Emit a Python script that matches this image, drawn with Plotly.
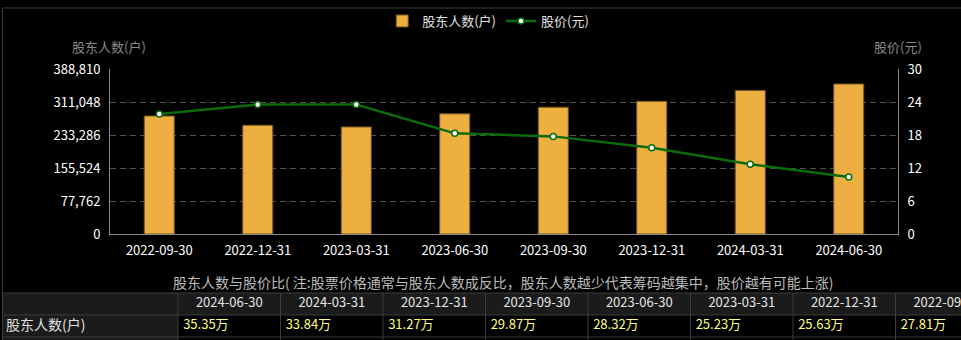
import plotly.graph_objects as go

# ---------------- data ----------------
dates = ["2022-09-30", "2022-12-31", "2023-03-31", "2023-06-30",
         "2023-09-30", "2023-12-31", "2024-03-31", "2024-06-30"]
holders = [278100, 256300, 252300, 283200, 298700, 312700, 338400, 353500]
price = [21.8, 23.55, 23.55, 18.3, 17.75, 15.7, 12.7, 10.35]
left_ticks = [0, 77762, 155524, 233286, 311048, 388810]
right_ticks = [0, 6, 12, 18, 24, 30]
bar_name = "股东人数(户)"
line_name = "股价(元)"
left_title = "股东人数(户)"
right_title = "股价(元)"
caption = "股东人数与股价比( 注:股票价格通常与股东人数成反比，股东人数越少代表筹码越集中，股价越有可能上涨)"
row_label = "股东人数(户)"

# table (newest first)
table_dates = dates[::-1]
table_vals = [f"{h / 10000:.2f}万" for h in holders[::-1]]

# ---------------- layout helpers ----------------
W, H = 961, 340
FONT = "Noto Sans CJK SC"


def px(x):
    return x / W


def py(y):
    return 1 - y / H


COLW = 102.5          # table column width in px
COL0 = 178            # first data column left edge (px)
ROWH = 22             # row height (px)
ROW0 = 293            # header row top (px)


def tu(x):  # px -> table x units
    return (x - COL0) / COLW


def tv(y):  # px -> table y units
    return (y - ROW0) / ROWH


fig = go.Figure()

fig.add_trace(go.Bar(
    x=dates, y=holders, name=bar_name, width=0.305,
    marker=dict(color="#EDB040", line=dict(color="#6e5220", width=1)),
    xaxis="x", yaxis="y", hoverinfo="skip"))

fig.add_trace(go.Scatter(
    x=dates, y=price, name=line_name, mode="lines+markers",
    line=dict(color="#0b6b0b", width=2.5),
    marker=dict(color="white", size=6, line=dict(color="#0b6b0b", width=1.5)),
    xaxis="x", yaxis="y2", hoverinfo="skip"))

# table texts via a text trace on a dedicated axis pair
n = len(table_dates)
fig.add_trace(go.Scatter(
    x=[i + 0.5 for i in range(n)], y=[0.5] * n, text=table_dates,
    mode="text", textposition="middle center",
    textfont=dict(family=FONT, size=13, color="#e6e6e6"),
    xaxis="x3", yaxis="y3", showlegend=False, hoverinfo="skip"))
fig.add_trace(go.Scatter(
    x=[i + 0.05 for i in range(n)], y=[1.5] * n, text=table_vals,
    mode="text", textposition="middle right",
    textfont=dict(family=FONT, size=13, color="#ffff7a"),
    xaxis="x3", yaxis="y3", showlegend=False, hoverinfo="skip"))
fig.add_trace(go.Scatter(
    x=[tu(6)], y=[1.5], text=[row_label],
    mode="text", textposition="middle right",
    textfont=dict(family=FONT, size=14, color="#e0e0e0"),
    xaxis="x3", yaxis="y3", showlegend=False, hoverinfo="skip"))

shapes = []
LEFT = tu(2.5)
RIGHT = tu(W + 5)
BOTTOM = tv(H + 5)
GRID = "#3c3c3c"
# header row fill + label cell fill
shapes.append(dict(type="rect", xref="x3", yref="y3", x0=LEFT, x1=RIGHT, y0=0, y1=1,
                   fillcolor="#1b1b1b", line=dict(width=0), layer="below"))
shapes.append(dict(type="rect", xref="x3", yref="y3", x0=LEFT, x1=0, y0=1, y1=BOTTOM,
                   fillcolor="#1b1b1b", line=dict(width=0), layer="below"))
for r in [0, 1, 2]:
    shapes.append(dict(type="line", xref="x3", yref="y3", x0=LEFT, x1=RIGHT, y0=r, y1=r,
                       line=dict(color=GRID, width=1)))
for c in range(n + 1):
    shapes.append(dict(type="line", xref="x3", yref="y3", x0=c, x1=c, y0=0, y1=BOTTOM,
                       line=dict(color=GRID, width=1)))
# outer frame
shapes.append(dict(type="line", xref="x3", yref="y3", x0=LEFT, x1=RIGHT,
                   y0=tv(8), y1=tv(8), line=dict(color=GRID, width=1)))
shapes.append(dict(type="line", xref="x3", yref="y3", x0=LEFT, x1=LEFT,
                   y0=tv(8), y1=BOTTOM, line=dict(color=GRID, width=1)))

annotations = [
    dict(text=left_title, x=px(109), y=py(47), xref="paper", yref="paper",
         xanchor="center", yanchor="middle",
         showarrow=False, font=dict(family=FONT, size=13, color="#8a8a8a")),
    dict(text=right_title, x=px(898), y=py(47), xref="paper", yref="paper",
         xanchor="center", yanchor="middle",
         showarrow=False, font=dict(family=FONT, size=13, color="#8a8a8a")),
    dict(text=caption, x=tu(503), y=tv(282), xref="x3", yref="y3",
         xanchor="center", yanchor="middle",
         showarrow=False, font=dict(family=FONT, size=14, color="#bdbdbd")),
]

AX = "#8a8a8a"
fig.update_layout(
    width=W, height=H,
    margin=dict(l=0, r=0, t=0, b=0, autoexpand=False),
    paper_bgcolor="#000000", plot_bgcolor="rgba(0,0,0,0)",
    font=dict(family=FONT, color="#ffffff", size=13),
    showlegend=True,
    legend=dict(orientation="h", x=0.508, xanchor="center", y=py(21), yanchor="middle",
                bgcolor="rgba(0,0,0,0)", font=dict(family=FONT, size=13, color="#e0e0e0"),
                itemwidth=30),
    bargap=0.7,
    xaxis=dict(domain=[px(110), px(898)], type="category", anchor="y",
               showline=True, linecolor=AX, linewidth=1, showgrid=False,
               ticks="", ticklabelstandoff=4,
               tickfont=dict(family=FONT, size=13, color="#ffffff"),
               fixedrange=True),
    yaxis=dict(domain=[py(234), py(69)], range=[0, 388810], tickvals=left_ticks,
               ticktext=[f"{v:,}" for v in left_ticks], anchor="x",
               showline=True, linecolor=AX, linewidth=1,
               showgrid=True, gridcolor="#505050", griddash="6px,4px", gridwidth=1,
               zeroline=False, ticks="", ticklabelstandoff=6,
               tickfont=dict(family=FONT, size=13, color="#ffffff"), fixedrange=True),
    yaxis2=dict(overlaying="y", side="right", range=[0, 30], tickvals=right_ticks,
                anchor="x", showline=True, linecolor=AX, linewidth=1,
                showgrid=False, zeroline=False, ticks="", ticklabelstandoff=6,
                tickfont=dict(family=FONT, size=13, color="#ffffff"), fixedrange=True),
    xaxis3=dict(domain=[0, 1], range=[tu(0), tu(W)], anchor="y3", visible=False,
                fixedrange=True),
    yaxis3=dict(domain=[0, 1], range=[tv(H), tv(0)], anchor="x3", visible=False,
                fixedrange=True),
    shapes=shapes,
    annotations=annotations,
)

fig.write_html("out.html")
